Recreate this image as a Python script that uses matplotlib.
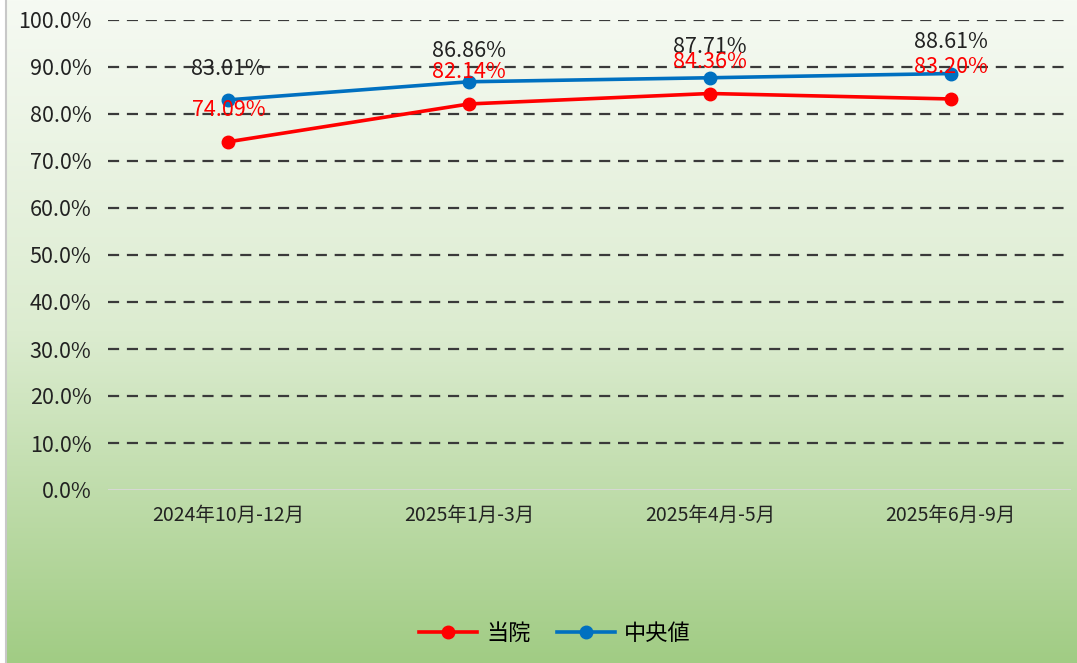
import numpy as np
import matplotlib
matplotlib.use("Agg")
import matplotlib.pyplot as plt
from matplotlib.colors import LinearSegmentedColormap
from matplotlib.ticker import FuncFormatter

plt.rcParams['font.family'] = ['Noto Sans CJK JP', 'DejaVu Sans']

categories = ['2024年10月-12月', '2025年1月-3月', '2025年4月-5月', '2025年6月-9月']
hospital = [74.09, 82.14, 84.36, 83.20]   # 当院
median = [83.01, 86.86, 87.71, 88.61]     # 中央値

fig = plt.figure(figsize=(10.77, 6.63), dpi=100)

# gradient background over the whole figure
bg = fig.add_axes([0, 0, 1, 1], zorder=-10)
cmap = LinearSegmentedColormap.from_list('g', ['#f6faf3', '#dcecd0', '#a1cc84'])
grad = np.linspace(0, 1, 256).reshape(-1, 1)
bg.imshow(grad, aspect='auto', cmap=cmap, extent=[0, 1, 0, 1], origin='upper')
bg.axvspan(0, 5 / 1077, color='white')
bg.axvline(6 / 1077, color='#c8c8c8', lw=1.5)
bg.set_xlim(0, 1)
bg.set_ylim(0, 1)
bg.axis('off')

ax = fig.add_axes([108 / 1077, 173 / 663, 963 / 1077, 470 / 663])
ax.patch.set_alpha(0)
x = np.arange(len(categories))

ax.plot(x, hospital, color='#ff0000', lw=2.6, marker='o', ms=9, label='当院', zorder=3)
ax.plot(x, median, color='#0070c0', lw=2.6, marker='o', ms=9, label='中央値', zorder=3)

for i in x:
    ax.annotate(f'{median[i]:.2f}%', (i, median[i]), xytext=(0, 22.5), textcoords='offset points',
                ha='center', va='center', fontsize=15.5, color='#222222', zorder=4)
    ax.annotate(f'{hospital[i]:.2f}%', (i, hospital[i]), xytext=(0, 23), textcoords='offset points',
                ha='center', va='center', fontsize=15.5, color='#ff0000', zorder=4)

ax.set_xlim(-0.5, len(categories) - 0.5)
ax.set_ylim(0, 100)
ax.set_yticks(np.arange(0, 101, 10))
ax.yaxis.set_major_formatter(FuncFormatter(lambda v, p: f'{v:.1f}%'))
ax.set_xticks(x)
ax.set_xticklabels(categories)
ax.tick_params(axis='y', length=0, pad=12, labelsize=15.5, colors='#222222')
ax.tick_params(axis='x', length=0, pad=11, labelsize=14, colors='#222222')

for v in np.arange(10, 101, 10):
    ax.axhline(v, color='#3a3a3a', lw=1.6, ls=(0, (5, 3.5)), zorder=1)
ax.axhline(0, color='#d9d9d9', lw=2, zorder=1)
for s in ax.spines.values():
    s.set_visible(False)

leg = fig.legend(loc='center', bbox_to_anchor=(555 / 1077, 30 / 663), ncol=2, frameon=False,
                 fontsize=16, handlelength=2.6, columnspacing=1.2, handletextpad=0.4)

fig.savefig('out.png', dpi=100)
